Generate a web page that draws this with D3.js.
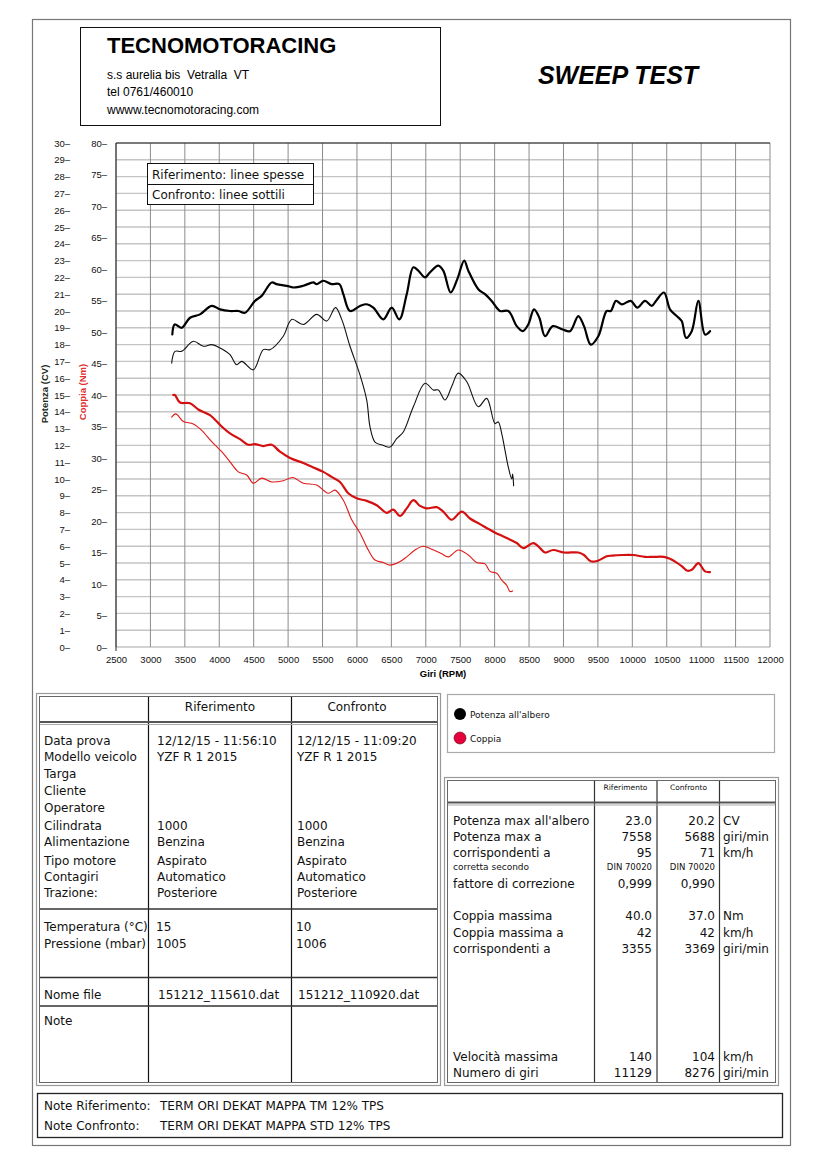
<!DOCTYPE html>
<html>
<head>
<meta charset="utf-8">
<script src="https://cdn.jsdelivr.net/npm/d3@7/dist/d3.min.js"></script>
<style>
  body { margin: 0; background: #fff; }
  svg { display: block; }
  .tbl { font-family: "DejaVu Sans", Verdana, sans-serif; font-size: 12px; fill: #111; }
  .arial { font-family: "Liberation Sans", Arial, sans-serif; }
</style>
</head>
<body>
<svg id="page" width="827" height="1169"></svg>
<script>
// ---------------- DATA ----------------
const rpmTicks = [2500,3000,3500,4000,4500,5000,5500,6000,6500,7000,7500,8000,8500,9000,9500,10000,10500,11000,11500,12000];
const powerTicks = d3.range(0, 31, 1);
const torqueTicks = [0,5,10,15,20,25,30,35,40,45,50,55,60,65,70,75,80];

// Riferimento - Potenza (CV)
const refPowerRpm = [3318,3353,3454,3575,3720,3890,4011,4156,4277,4374,4519,4616,4762,4834,4980,5075,5221,5366,5415,5511,5633,5744,5802,5899,6044,6142,6238,6383,6505,6615,6723,6819,6891,6989,7061,7182,7254,7362,7458,7558,7618,7763,7860,7957,8078,8199,8321,8408,8489,8572,8649,8732,8844,8989,9095,9215,9298,9396,9506,9628,9686,9763,9846,9977,10072,10184,10282,10344,10460,10547,10645,10717,10780,10863,10959,11056,11129];
const refPowerCv  = [18.6,19.2,19.0,19.6,19.8,20.3,20.1,20.0,20.0,19.9,20.6,20.9,21.7,21.6,21.5,21.4,21.5,21.7,21.6,21.8,21.6,21.6,21.0,20.0,20.3,20.4,20.2,19.5,20.2,19.5,21.0,22.6,22.4,22.0,22.3,22.7,22.4,21.1,21.9,23.0,22.4,21.3,21.0,20.6,20.0,20.0,19.1,18.8,19.2,20.1,19.6,18.5,19.1,18.9,18.8,19.7,19.1,18.0,18.5,20.0,20.0,20.6,20.4,20.6,20.2,20.6,20.3,20.6,21.1,20.1,19.7,19.4,18.4,18.8,20.6,18.6,18.8];

// Confronto - Potenza (CV)
const cmpPowerRpm = [3309,3357,3454,3623,3768,3890,4011,4156,4253,4326,4494,4640,4737,4930,5052,5221,5415,5561,5688,5779,5899,6044,6142,6190,6262,6383,6480,6577,6673,6819,6989,7109,7182,7279,7376,7472,7594,7763,7885,8005,8053,8103,8151,8199,8248,8262,8276];
const cmpPowerCv  = [16.9,17.6,17.6,18.2,17.9,18.0,17.8,17.4,16.8,17.0,16.5,17.7,17.7,18.5,19.5,19.2,19.8,19.4,20.2,19.5,17.9,16.2,14.7,13.1,12.2,12.0,11.9,12.4,12.8,14.3,15.7,15.3,15.3,14.7,15.5,16.3,15.8,14.3,14.8,13.3,13.4,12.7,11.7,10.7,10.0,10.3,9.6];

// Riferimento - Coppia (Nm)
const refTorqueRpm = [3332,3355,3430,3575,3695,3865,4035,4156,4301,4422,4519,4640,4762,4882,5028,5221,5366,5511,5633,5754,5874,5996,6142,6287,6432,6528,6625,6723,6819,6916,7013,7159,7254,7376,7522,7642,7787,7981,8175,8321,8417,8562,8659,8732,8850,9008,9215,9298,9396,9501,9628,9705,9846,10010,10184,10300,10460,10547,10645,10722,10800,10870,10959,11056,11129];
const refTorqueNm  = [40.0,40.0,38.8,38.7,37.7,36.8,35.0,33.9,33.0,32.1,32.2,31.9,32.1,31.0,30.0,29.2,28.5,27.8,27.0,26.2,24.4,23.6,23.2,22.5,21.3,21.8,20.8,22.0,23.3,22.4,22.0,22.2,21.5,20.2,21.5,20.4,19.5,18.3,17.3,16.5,15.7,16.5,15.7,15.0,15.4,15.0,15.0,14.6,13.6,13.7,14.4,14.5,14.6,14.6,14.3,14.3,14.3,14.0,13.4,12.8,12.1,12.3,13.3,12.0,11.9];

// Confronto - Coppia (Nm)
const cmpTorqueRpm = [3309,3369,3478,3623,3745,3890,4035,4156,4277,4399,4494,4616,4762,4930,5067,5221,5415,5584,5681,5802,5924,6044,6165,6262,6383,6480,6601,6723,6843,6964,7086,7231,7327,7472,7618,7740,7860,7933,8030,8103,8175,8223,8262];
const cmpTorqueNm  = [36.5,37.0,35.8,35.4,34.4,32.6,31.0,29.4,27.8,27.3,26.0,26.8,26.2,26.4,26.9,26.0,25.7,24.4,24.9,23.3,20.2,18.1,15.4,13.8,13.4,13.0,13.4,14.3,15.4,16.0,15.5,14.8,14.3,15.4,14.6,13.4,13.2,12.0,11.7,10.6,9.8,8.8,8.9];

// Table texts
const leftLabels = ["Data prova","Modello veicolo","Targa","Cliente","Operatore","Cilindrata","Alimentazione","Tipo motore","Contagiri","Trazione:"];
const leftRif    = ["12/12/15 - 11:56:10","YZF R 1 2015","","","","1000","Benzina","Aspirato","Automatico","Posteriore"];
const leftConf   = ["12/12/15 - 11:09:20","YZF R 1 2015","","","","1000","Benzina","Aspirato","Automatico","Posteriore"];
const envLabels  = ["Temperatura (°C)","Pressione (mbar)"];
const envRif     = ["15","1005"];
const envConf    = ["10","1006"];
const fileRif = "151212_115610.dat", fileConf = "151212_110920.dat";

const rightRows = [
  {l:"Potenza max all'albero", r:"23.0", c:"20.2", u:"CV"},
  {l:"Potenza max a", r:"7558", c:"5688", u:"giri/min"},
  {l:"corrispondenti a", r:"95", c:"71", u:"km/h"},
  {l:"corretta secondo", r:"DIN 70020", c:"DIN 70020", u:"", small:true},
  {l:"fattore di correzione", r:"0,999", c:"0,990", u:""},
  {l:"Coppia massima", r:"40.0", c:"37.0", u:"Nm"},
  {l:"Coppia massima a", r:"42", c:"42", u:"km/h"},
  {l:"corrispondenti a", r:"3355", c:"3369", u:"giri/min"},
  {l:"Velocità massima", r:"140", c:"104", u:"km/h"},
  {l:"Numero di giri", r:"11129", c:"8276", u:"giri/min"}
];
const rightRowY = [825,841,857,870,888,920,937,953,1061,1077];

// ---------------- DRAW ----------------
const svg = d3.select("#page");

// page frame
svg.append("rect").attr("x",32.5).attr("y",19.5).attr("width",758).attr("height",1126)
  .attr("fill","none").attr("stroke","#777").attr("stroke-width",1.2);

// header box
svg.append("rect").attr("x",80.5).attr("y",27.5).attr("width",360).attr("height",98)
  .attr("fill","none").attr("stroke","#111").attr("stroke-width",1);
svg.append("text").attr("class","arial").attr("x",107).attr("y",53)
  .attr("font-size",22).attr("font-weight","bold").text("TECNOMOTORACING");
[["s.s aurelia bis  Vetralla  VT",79],["tel 0761/460010",96],["wwww.tecnomotoracing.com",114]].forEach(([t,y])=>{
  svg.append("text").attr("class","arial").attr("x",107).attr("y",y).attr("font-size",12)
    .attr("xml:space","preserve").style("white-space","pre").text(t);
});
svg.append("text").attr("class","arial").attr("x",618).attr("y",84).attr("text-anchor","middle")
  .attr("font-size",25).attr("font-weight","bold").attr("font-style","italic").text("SWEEP TEST");

// chart
const x = d3.scaleLinear().domain([2500,12000]).range([116,770]);
const yP = d3.scaleLinear().domain([0,30]).range([647,143]);
const yC = d3.scaleLinear().domain([0,80]).range([647,143]);

const grid = svg.append("g");
grid.selectAll("line.h").data(powerTicks).join("line")
  .attr("x1",x(2500)).attr("x2",x(12000)).attr("y1",d=>yP(d)).attr("y2",d=>yP(d))
  .attr("stroke","#c4c4c4").attr("stroke-width",1.4);
grid.selectAll("line.v").data(rpmTicks).join("line")
  .attr("x1",d=>x(d)).attr("x2",d=>x(d)).attr("y1",yP(30)).attr("y2",yP(0))
  .attr("stroke","#8c8c8c").attr("stroke-width",1);
// frame top & left
svg.append("line").attr("x1",x(2500)).attr("x2",x(12000)).attr("y1",yP(30)).attr("y2",yP(30)).attr("stroke","#222").attr("stroke-width",1);
svg.append("line").attr("x1",x(2500)).attr("x2",x(2500)).attr("y1",yP(30)).attr("y2",yP(0)+4).attr("stroke","#222").attr("stroke-width",1);

// axes
const axP = d3.axisLeft(yP).tickValues(powerTicks).tickSize(0).tickPadding(0).tickFormat(d=>d+"–");
const gP = svg.append("g").attr("transform","translate(70,0)").call(axP);
gP.select(".domain").remove();
gP.selectAll("text").attr("class","arial").attr("font-size",9.5).attr("fill","#111");

const axC = d3.axisLeft(yC).tickValues(torqueTicks).tickSize(0).tickPadding(0).tickFormat(d=>d+"–");
const gC = svg.append("g").attr("transform","translate(107,0)").call(axC);
gC.select(".domain").remove();
gC.selectAll("text").attr("class","arial").attr("font-size",9.5).attr("fill","#111");

const axX = d3.axisBottom(x).tickValues(rpmTicks).tickSize(0).tickPadding(9).tickFormat(d=>d);
const gX = svg.append("g").attr("transform",`translate(0,${yP(0)})`).call(axX);
gX.select(".domain").remove();
gX.selectAll("text").attr("class","arial").attr("font-size",9.5).attr("fill","#111");

svg.append("text").attr("class","arial").attr("x",(x(2500)+x(12000))/2).attr("y",677)
  .attr("text-anchor","middle").attr("font-size",9.5).attr("font-weight","bold").text("Giri (RPM)");

svg.append("text").attr("class","arial").attr("transform","translate(48,394) rotate(-90)")
  .attr("text-anchor","middle").attr("font-size",9.5).attr("font-weight","bold").attr("fill","#1a2a1a").text("Potenza (CV)");
svg.append("text").attr("class","arial").attr("transform","translate(86,392) rotate(-90)")
  .attr("text-anchor","middle").attr("font-size",9.5).attr("font-weight","bold").attr("fill","#e03030").text("Coppia (Nm)");

// in-chart legend
svg.append("rect").attr("x",147.5).attr("y",163.5).attr("width",166).attr("height",21).attr("fill","#fff").attr("stroke","#111");
svg.append("rect").attr("x",147.5).attr("y",184.5).attr("width",166).attr("height",20).attr("fill","#fff").attr("stroke","#111");
svg.append("text").attr("class","tbl").attr("x",152).attr("y",178.5).attr("font-size",11.5).text("Riferimento: linee spesse");
svg.append("text").attr("class","tbl").attr("x",152).attr("y",199).attr("font-size",11.5).text("Confronto: linee sottili");

// curves
const lineP = d3.line().x(d=>x(d[0])).y(d=>yP(d[1])).curve(d3.curveCatmullRom.alpha(0.5));
const lineC = d3.line().x(d=>x(d[0])).y(d=>yC(d[1])).curve(d3.curveCatmullRom.alpha(0.5));
const curves = svg.append("g").attr("fill","none").attr("stroke-linejoin","round").attr("stroke-linecap","round");
curves.append("path").attr("d",lineC(d3.zip(cmpTorqueRpm,cmpTorqueNm))).attr("stroke","#e01818").attr("stroke-width",1.1);
curves.append("path").attr("d",lineC(d3.zip(refTorqueRpm,refTorqueNm))).attr("stroke","#d41010").attr("stroke-width",2.2);
curves.append("path").attr("d",lineP(d3.zip(cmpPowerRpm,cmpPowerCv))).attr("stroke","#111").attr("stroke-width",1.1);
curves.append("path").attr("d",lineP(d3.zip(refPowerRpm,refPowerCv))).attr("stroke","#000").attr("stroke-width",2.2);

// ---------- left table ----------
function dblRect(x0,y0,w,h){
  svg.append("rect").attr("x",x0+0.5).attr("y",y0+0.5).attr("width",w).attr("height",h).attr("fill","none").attr("stroke","#999").attr("stroke-width",1.2);
  svg.append("rect").attr("x",x0+3.5).attr("y",y0+3.5).attr("width",w-6).attr("height",h-6).attr("fill","none").attr("stroke","#666").attr("stroke-width",1);
}
dblRect(36,693,404,392);
const lt = svg.append("g").attr("class","tbl");
[148.5,291.5].forEach(cx=>lt.append("line").attr("x1",cx).attr("x2",cx).attr("y1",697).attr("y2",1082).attr("stroke","#111").attr("stroke-width",1.2));
lt.append("line").attr("x1",40).attr("x2",437).attr("y1",722).attr("y2",722).attr("stroke","#555").attr("stroke-width",2);
lt.append("line").attr("x1",40).attr("x2",437).attr("y1",724.5).attr("y2",724.5).attr("stroke","#aaa").attr("stroke-width",1);
[909,977.5,1006].forEach(y=>lt.append("line").attr("x1",40).attr("x2",437).attr("y1",y).attr("y2",y).attr("stroke","#333").attr("stroke-width",1.3));
lt.append("text").attr("x",220).attr("y",711).attr("text-anchor","middle").text("Riferimento");
lt.append("text").attr("x",357).attr("y",711).attr("text-anchor","middle").text("Confronto");
const leftY = [745,761,777.5,794.5,811.5,829.5,846,864.5,881,897];
leftLabels.forEach((t,i)=>{
  lt.append("text").attr("x",44).attr("y",leftY[i]).text(t);
  lt.append("text").attr("x",157).attr("y",leftY[i]).text(leftRif[i]);
  lt.append("text").attr("x",297).attr("y",leftY[i]).text(leftConf[i]);
});
[930.5,947.5].forEach((y,i)=>{
  lt.append("text").attr("x",44).attr("y",y).text(envLabels[i]);
  lt.append("text").attr("x",156).attr("y",y).text(envRif[i]);
  lt.append("text").attr("x",296).attr("y",y).text(envConf[i]);
});
lt.append("text").attr("x",44).attr("y",998.5).text("Nome file");
lt.append("text").attr("x",158).attr("y",998.5).text(fileRif);
lt.append("text").attr("x",298).attr("y",998.5).text(fileConf);
lt.append("text").attr("x",44).attr("y",1025).text("Note");

// ---------- legend panel ----------
svg.append("rect").attr("x",447.5).attr("y",694.5).attr("width",327).attr("height",58).attr("fill","none").attr("stroke","#aaa").attr("stroke-width",1.2);
const leg = svg.append("g").attr("class","tbl");
leg.append("circle").attr("cx",460).attr("cy",714).attr("r",6).attr("fill","#000");
leg.append("text").attr("x",470).attr("y",717.5).attr("font-size",9).text("Potenza all'albero");
leg.append("circle").attr("cx",460).attr("cy",738).attr("r",6).attr("fill","#e3003c").attr("stroke","#600").attr("stroke-width",0.6);
leg.append("text").attr("x",470).attr("y",741.5).attr("font-size",9).text("Coppia");

// ---------- right table ----------
dblRect(444,777,334,308);
const rt = svg.append("g").attr("class","tbl");
[594.5,657,719.5].forEach(cx=>rt.append("line").attr("x1",cx).attr("x2",cx).attr("y1",781).attr("y2",1082).attr("stroke","#333").attr("stroke-width",1.2));
rt.append("line").attr("x1",448).attr("x2",775).attr("y1",802.5).attr("y2",802.5).attr("stroke","#555").attr("stroke-width",2);
rt.append("line").attr("x1",448).attr("x2",775).attr("y1",805).attr("y2",805).attr("stroke","#aaa").attr("stroke-width",1);
rt.append("text").attr("x",625.5).attr("y",789.5).attr("text-anchor","middle").attr("font-size",7.5).text("Riferimento");
rt.append("text").attr("x",688.5).attr("y",789.5).attr("text-anchor","middle").attr("font-size",7.5).text("Confronto");
rightRows.forEach((r,i)=>{
  const y = rightRowY[i];
  rt.append("text").attr("x",453).attr("y",y).attr("font-size",r.small?9:12).text(r.l);
  rt.append("text").attr("x",652).attr("y",y).attr("text-anchor","end").attr("font-size",r.small?8.5:12).text(r.r);
  rt.append("text").attr("x",715).attr("y",y).attr("text-anchor","end").attr("font-size",r.small?8.5:12).text(r.c);
  if (r.u) rt.append("text").attr("x",723).attr("y",y).text(r.u);
});

// ---------- notes box ----------
svg.append("rect").attr("x",37.5).attr("y",1093.5).attr("width",745).attr("height",44).attr("fill","none").attr("stroke","#222").attr("stroke-width",1.3);
const nb = svg.append("g").attr("class","tbl");
nb.append("text").attr("x",44).attr("y",1110).text("Note Riferimento:");
nb.append("text").attr("x",160).attr("y",1110).text("TERM ORI DEKAT MAPPA TM 12% TPS");
nb.append("text").attr("x",44).attr("y",1130).text("Note Confronto:");
nb.append("text").attr("x",160).attr("y",1130).text("TERM ORI DEKAT MAPPA STD 12% TPS");
</script>
</body>
</html>
